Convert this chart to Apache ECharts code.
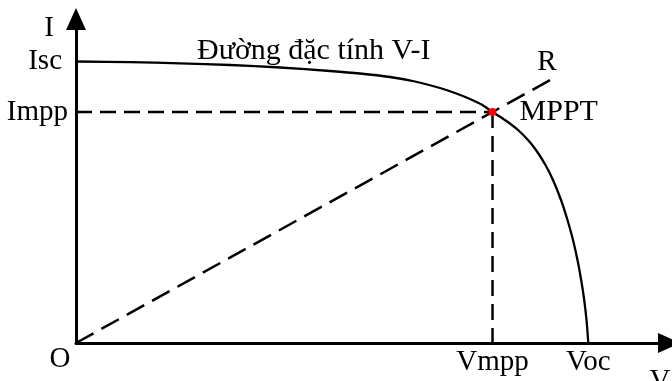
<!DOCTYPE html>
<html>
<head>
<meta charset="utf-8">
<script src="https://cdn.jsdelivr.net/npm/echarts@6/dist/echarts.min.js"></script>
<style>
  html, body { margin: 0; padding: 0; background: #fff; }
  #chart { width: 672px; height: 381px; }
</style>
</head>
<body>
<div id="chart"></div>
<script>
// I-V characteristic of a PV cell (arbitrary units, axes 0..100)
const curveV = [0, 9.11, 17.54, 25.97, 34.40, 42.83, 47.89, 52.95, 57.17, 61.38, 63.91, 66.44, 68.47,
  70.24, 72.34, 74.54, 76.22, 77.57, 79.17, 80.44, 81.79, 82.88, 83.81, 84.57, 85.19, 85.70, 86.09, 86.39];
const curveI = [86.88, 86.67, 86.33, 85.80, 85.03, 83.95, 83.18, 82.10, 80.71, 78.70, 77.16, 75.31, 73.52,
  71.30, 68.83, 65.74, 62.65, 59.57, 54.94, 50.31, 44.14, 37.96, 31.79, 25.62, 19.44, 13.27, 7.10, 0];

// Key operating points
const Isc = 86.88;
const Impp = 71.30;
const Vmpp = 70.24;
const Voc = 86.39;

// Load line R through the origin and the MPP
const loadLineV = [0, 81.1];
const loadLineI = [0, 82.32];

// Tick labels
const xTickValues = [Vmpp, Voc];
const xTickNames = ['Vmpp', 'Voc'];
const yTickValues = [Impp, Isc];
const yTickNames = ['Impp', 'Isc'];

const curveTitle = 'Đường đặc tính V-I';
const FONT = "'Liberation Serif', 'Times New Roman', serif";
const FS = 29;
const FS_BIG = 30;

const zip = (a, b) => a.map((v, i) => [v, b[i]]);

const chart = echarts.init(document.getElementById('chart'), null, { renderer: 'canvas' });

const axisLineStyle = {
  show: true,
  symbol: ['none', 'triangle'],
  symbolSize: [20, 22],
  lineStyle: { color: '#000', width: 3 }
};

const dashed = (w, pattern) => ({ color: '#000', width: w, type: pattern });

chart.setOption({
  animation: false,
  backgroundColor: '#fff',
  grid: { left: 76, right: 3, top: 19, bottom: 38, containLabel: false },
  xAxis: {
    type: 'value', min: 0, max: 100,
    axisLine: axisLineStyle,
    axisTick: { show: false },
    splitLine: { show: false },
    axisLabel: {
      customValues: xTickValues,
      formatter: v => xTickNames[xTickValues.indexOf(v)] || '',
      verticalAlign: 'middle',
      margin: 19,
      fontFamily: FONT, fontSize: FS, color: '#000'
    }
  },
  yAxis: {
    type: 'value', min: 0, max: 100,
    axisLine: axisLineStyle,
    axisTick: { show: false },
    splitLine: { show: false },
    axisLabel: {
      customValues: yTickValues,
      formatter: v => {
        const n = yTickNames[yTickValues.indexOf(v)] || '';
        return n === 'Isc' ? '{s|' + n + '}' : n;
      },
      margin: 8,
      fontFamily: FONT, fontSize: FS, color: '#000',
      rich: { s: { fontFamily: FONT, fontSize: FS, color: '#000', padding: [0, 6, 0, 0] } }
    }
  },
  series: [
    {
      name: 'Impp',
      type: 'line',
      data: [[0, Impp], [Vmpp, Impp]],
      symbol: 'none',
      lineStyle: dashed(2.5, [16, 8]),
      z: 2
    },
    {
      name: 'Vmpp',
      type: 'line',
      data: [[Vmpp, Impp], [Vmpp, 0]],
      symbol: 'none',
      lineStyle: dashed(2.5, [16, 8]),
      z: 2
    },
    {
      name: 'R',
      type: 'line',
      data: zip(loadLineV, loadLineI),
      symbol: 'none',
      lineStyle: dashed(2.5, [20, 9]),
      z: 2
    },
    {
      name: 'V-I',
      type: 'line',
      data: zip(curveV, curveI),
      symbol: 'none',
      smooth: 0.3,
      lineStyle: { color: '#000', width: 2.3 },
      z: 3
    },
    {
      name: 'MPPT',
      type: 'scatter',
      data: [[Vmpp, Impp]],
      symbol: 'circle',
      symbolSize: 8,
      itemStyle: { color: '#ff0000', opacity: 1 },
      z: 5
    }
  ]
});

// Annotations anchored to points of the coordinate system
const px = p => chart.convertToPixel({ gridIndex: 0 }, p);
const origin = px([0, 0]);
const yEnd = px([0, 100]);
const xEnd = px([100, 0]);
const rEnd = px([loadLineV[1], loadLineI[1]]);
const mpp = px([Vmpp, Impp]);
const iscPt = px([0, Isc]);

const txt = (text, x, y, align, size) => ({
  type: 'text',
  style: {
    text, x, y,
    fill: '#000',
    font: (size || FS) + 'px ' + FONT,
    textAlign: align || 'center',
    textVerticalAlign: 'middle'
  },
  z: 10
});

chart.setOption({
  graphic: [
    txt('I', yEnd[0] - 27, yEnd[1] + 9),
    txt('V', xEnd[0] - 9, xEnd[1] + 38),
    txt('O', origin[0] - 16, origin[1] + 16),
    txt('R', rEnd[0] - 10, rEnd[1] - 14),
    txt('MPPT', mpp[0] + 27, mpp[1], 'left', FS_BIG),
    txt(curveTitle, iscPt[0] + 121, iscPt[1] - 10, 'left', FS_BIG)
  ]
});
</script>
</body>
</html>
